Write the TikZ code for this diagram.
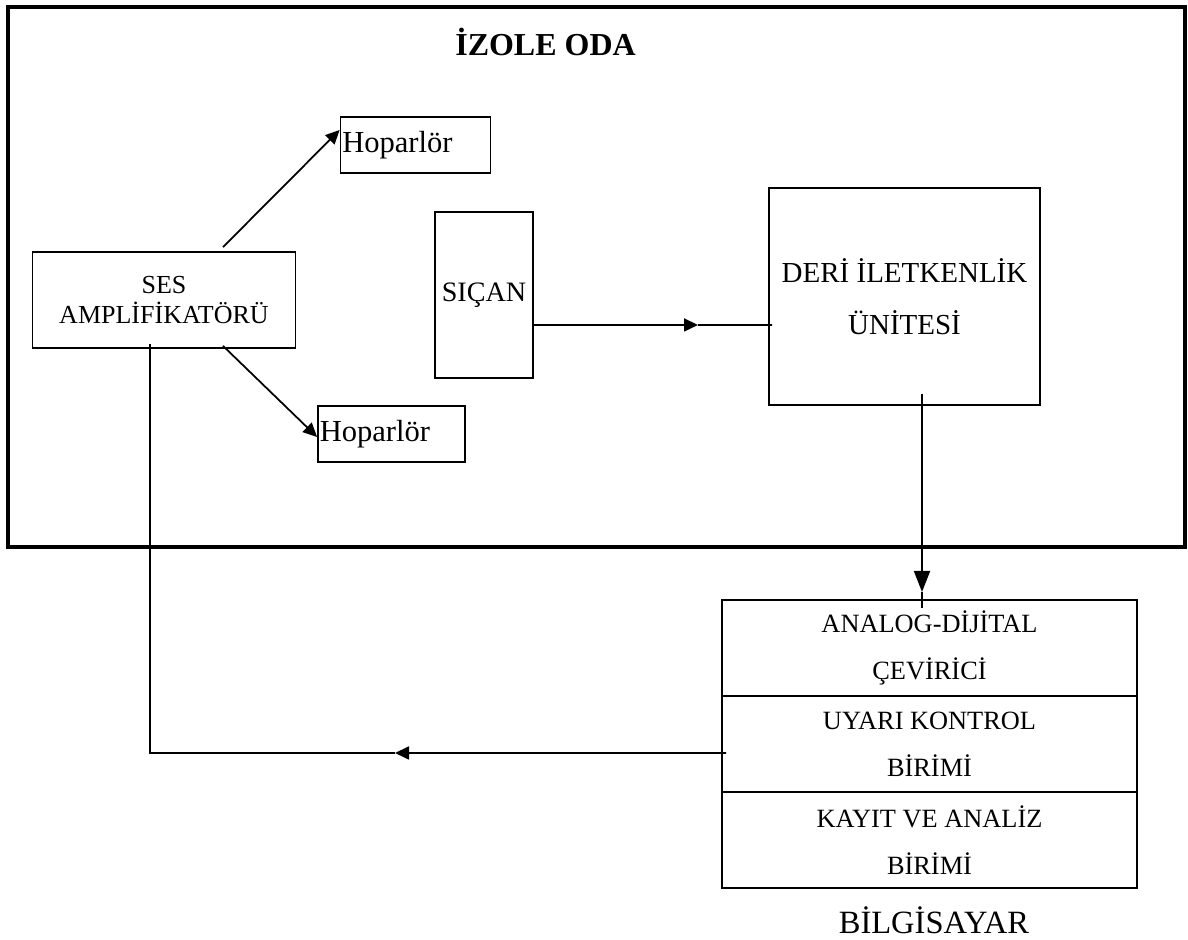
\documentclass[tikz,border=0pt]{standalone}
\usepackage{fontspec}
\setmainfont{Liberation Serif}
\usetikzlibrary{arrows.meta}

\begin{document}
\begin{tikzpicture}[
    box/.style={draw, line width=1pt, inner sep=1pt, align=center},
    hopbox/.style={box, align=left, text width=2.87cm, minimum height=1.12cm,
                   font=\fontsize{17.4}{20}\selectfont},
    unitbox/.style={box, minimum width=8.3cm, minimum height=1.92cm,
                    font=\fontsize{15}{26.7}\selectfont},
    arr/.style={line width=1pt, -{Triangle[length=0.28cm, width=0.26cm]}}
  ]
  \useasboundingbox (0,0) rectangle (23.76,18.8);

  % izole oda
  \node[draw, line width=2.4pt, minimum width=23.54cm, minimum height=10.8cm] (oda) at (11.93,13.26) {};
  \node[font=\bfseries\fontsize{18.2}{22}\selectfont] (odabaslik) at (10.91,17.96) {İZOLE ODA};

  \node[box, minimum width=5.26cm, minimum height=1.92cm, font=\fontsize{14.8}{17}\selectfont] (ses) at (3.28,12.8) {SES\\AMPLİFİKATÖRÜ};
  \node[hopbox, text width=2.93cm] (hop1) at (8.31,15.9) {Hoparlör};
  \node[hopbox] (hop2) at (7.83,10.12) {Hoparlör};
  \node[box, minimum width=1.96cm, minimum height=3.32cm, font=\fontsize{16}{19}\selectfont] (sican) at (9.68,12.9) {SIÇAN};
  \node[box, minimum width=5.42cm, minimum height=4.34cm, font=\fontsize{16.5}{29.6}\selectfont] (deri) at (18.09,12.87) {DERİ İLETKENLİK\\ÜNİTESİ};

  % bilgisayar
  \node[unitbox] (adc) at (18.59,5.84) {ANALOG-DİJİTAL\\ÇEVİRİCİ};
  \node[unitbox] (uyari) at (18.59,3.92) {UYARI KONTROL\\BİRİMİ};
  \node[unitbox] (kayit) at (18.59,2.0) {KAYIT VE ANALİZ\\BİRİMİ};
  \node[font=\fontsize{18.5}{22}\selectfont] (bilg) at (18.68,0.4) {BİLGİSAYAR};

  % baglantilar
  \draw[arr] ([shift={(1.18,0.08)}]ses.north) -- ([yshift=0.3cm]hop1.west);
  \draw[arr] ([shift={(1.18,0.06)}]ses.south) -- ([yshift=-0.06cm]hop2.west);

  \coordinate (ok1) at (13.96,12.3);
  \draw[arr] ([yshift=-0.6cm]sican.east) -- (ok1);
  \draw[line width=1pt] (ok1) -- ([shift={(0.08,-0.57)}]deri.west);

  \coordinate (ok2) at (18.44,6.96);
  \draw[line width=1pt, -{Triangle[length=0.42cm, width=0.32cm]}] ([shift={(0.35,0.24)}]deri.south) -- (ok2);
  \draw[line width=1pt] (ok2) -- ([shift={(-0.15,-0.18)}]adc.north);

  \coordinate (ok3) at (7.9,3.74);
  \draw[arr] ([shift={(0.1,-0.18)}]uyari.west) -- (ok3);
  \draw[line width=1pt] (ok3) -| ([shift={(-0.28,0.1)}]ses.south);
\end{tikzpicture}
\end{document}
